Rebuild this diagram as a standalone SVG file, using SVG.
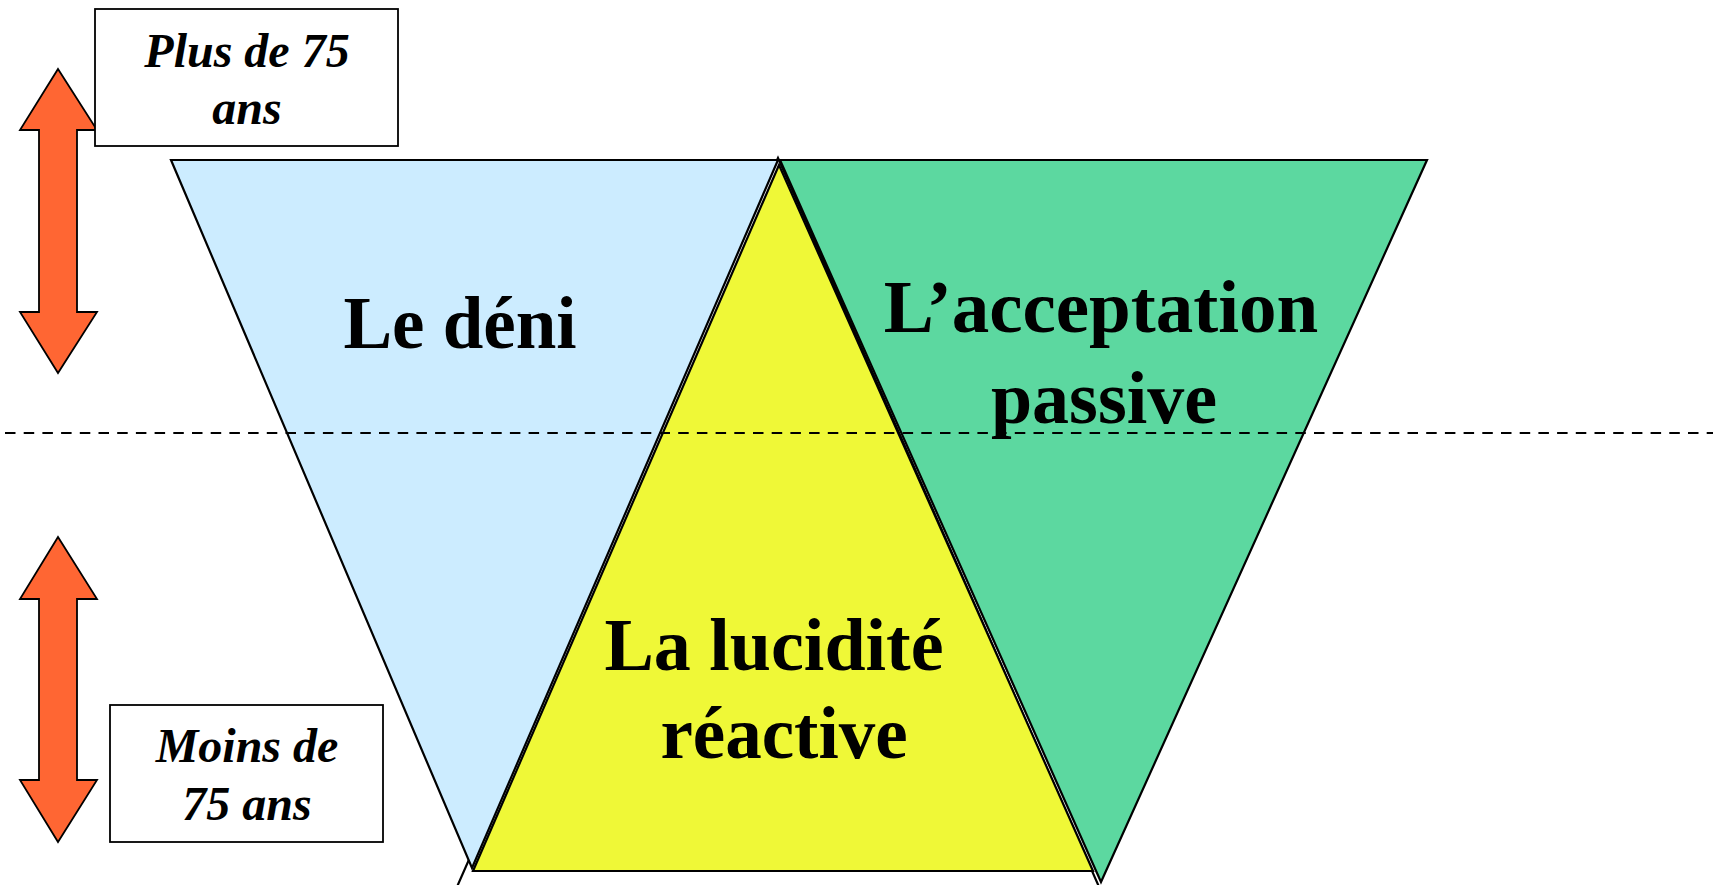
<svg xmlns="http://www.w3.org/2000/svg" width="1713" height="885" viewBox="0 0 1713 885">
<style>
.tri{stroke:#000;stroke-width:2.2;stroke-linejoin:miter}
.box{fill:#fff;stroke:#000;stroke-width:1.8}
.arrow{fill:#FF6633;stroke:#000;stroke-width:1.8}
.lab{font-family:"Liberation Serif","Times New Roman",serif;font-weight:bold;font-size:73px;fill:#000;text-anchor:middle}
.age{font-family:"Liberation Serif","Times New Roman",serif;font-weight:bold;font-style:italic;font-size:48px;fill:#000;text-anchor:middle}
</style>
<rect width="1713" height="885" fill="#fff"/>
<g id="back-triangle">
<polygon class="tri" points="778,158 449,905 1107,905" fill="#fff"/>
</g>
<g id="deni">
<polygon class="tri" points="171,160 778,160 472,868" fill="#CCECFF"/>
<text class="lab" x="460" y="348">Le déni</text>
</g>
<g id="acceptation">
<polygon class="tri" points="780,160 1427,160 1101,882" fill="#5CD8A0"/>
<text class="lab" x="1101" y="332" style="font-size:75px">L’acceptation</text>
<text class="lab" x="1104" y="423" style="font-size:74px">passive</text>
</g>
<g id="lucidite">
<polygon class="tri" points="779,165 473,871 1093,871" fill="#EFF837" stroke-width="2.8"/>
<text class="lab" x="774" y="670" style="font-size:74px">La lucidité</text>
<text class="lab" x="784" y="758">réactive</text>
</g>
<g id="connectors">
<line x1="5" y1="433" x2="1713" y2="433" stroke="#000" stroke-width="2.2" stroke-dasharray="10.5,8.2"/>
</g>
<g id="arrow-top">
<polygon class="arrow" points="58,69 97,130 77,130 77,312 97,312 58,373 20,312 39,312 39,130 20,130"/>
</g>
<g id="arrow-bottom">
<polygon class="arrow" points="58,537 97,599 77,599 77,780 97,780 58,842 20,780 39,780 39,599 20,599"/>
</g>
<g id="plus75">
<rect class="box" x="95" y="9" width="303" height="137"/>
<text class="age" x="247" y="67">Plus de 75</text>
<text class="age" x="247" y="124">ans</text>
</g>
<g id="moins75">
<rect class="box" x="110" y="705" width="273" height="137"/>
<text class="age" x="247" y="762">Moins de</text>
<text class="age" x="247" y="820">75 ans</text>
</g>
</svg>
